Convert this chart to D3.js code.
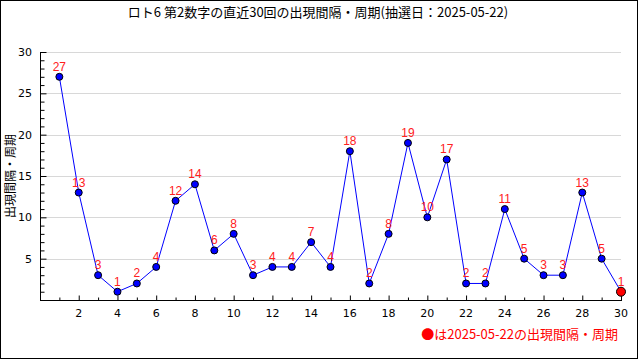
<!DOCTYPE html>
<html><head><meta charset="utf-8">
<script src="https://cdn.jsdelivr.net/npm/d3@7"></script>
<style>body{margin:0;background:#fff}svg{display:block}</style>
</head><body>
<svg id="c" width="640" height="360"></svg>
<script>
const title = "ロト6 第2数字の直近30回の出現間隔・周期(抽選日：2025-05-22)";
const yLabel = "出現間隔・周期";
const legendText = "●は2025-05-22の出現間隔・周期";
const draws = d3.range(1, 31);
const values = [27,13,3,1,2,4,12,14,6,8,3,4,4,7,4,18,2,8,19,10,17,2,2,11,5,3,3,13,5,1];
const yTicks = [5,10,15,20,25,30];
const xTicks = [2,4,6,8,10,12,14,16,18,20,22,24,26,28,30];

const svg = d3.select("#c");
const L = 40, R = 621, T = 52, B = 300;
const x = d3.scaleLinear().domain([0, 30]).range([L, R]);
const y = d3.scaleLinear().domain([0, 30]).range([B, T]);

svg.append("rect").attr("x",0.5).attr("y",0.5).attr("width",637).attr("height",358)
  .attr("fill","#fff").attr("stroke","#000");

// grid
svg.append("g").selectAll("line").data(yTicks).join("line")
  .attr("x1", L).attr("x2", R).attr("y1", d => Math.round(y(d))+0.5).attr("y2", d => Math.round(y(d))+0.5)
  .attr("stroke", "#d8d8d8");

// y axis
const yAxisMinor = d3.axisRight(y).tickValues(d3.range(1,31).filter(d=>d%5)).tickSize(4).tickFormat("");
const yAxisMajor = d3.axisRight(y).tickValues(yTicks).tickSize(6).tickFormat("");
svg.append("g").attr("transform",`translate(${L+0.5},0)`).call(yAxisMinor).call(g=>g.select(".domain").remove());
svg.append("g").attr("transform",`translate(${L+0.5},0)`).call(yAxisMajor).call(g=>g.select(".domain").remove());
svg.append("g").selectAll("text").data(yTicks).join("text")
  .attr("x", 32).attr("y", d => y(d)).attr("dy","0.35em").attr("text-anchor","end")
  .attr("font-family","DejaVu Sans").attr("font-size",11).text(d => d);

// x axis
const xAxisMinor = d3.axisTop(x).tickValues(d3.range(1,31).filter(d=>d%2)).tickSize(3).tickFormat("");
const xAxisMajor = d3.axisTop(x).tickValues(xTicks).tickSize(5).tickFormat("");
svg.append("g").attr("transform",`translate(0,${B+0.5})`).call(xAxisMinor).call(g=>g.select(".domain").remove());
svg.append("g").attr("transform",`translate(0,${B+0.5})`).call(xAxisMajor).call(g=>g.select(".domain").remove());
svg.append("g").selectAll("text").data(xTicks).join("text")
  .attr("x", d => x(d)).attr("y", 313).attr("dy","0.35em").attr("text-anchor","middle")
  .attr("font-family","DejaVu Sans").attr("font-size",11).text(d => d);

svg.append("line").attr("x1",L+0.5).attr("x2",L+0.5).attr("y1",T).attr("y2",B+1).attr("stroke","#000");
svg.append("line").attr("x1",L).attr("x2",R+1).attr("y1",B+0.5).attr("y2",B+0.5).attr("stroke","#000");

// line
const pts = draws.map((d,i)=>({d, v: values[i]}));
svg.append("path").datum(pts)
  .attr("d", d3.line().x(p=>x(p.d)).y(p=>y(p.v)))
  .attr("fill","none").attr("stroke","#0000ff").attr("stroke-width",1);

svg.append("g").selectAll("circle").data(pts).join("circle")
  .attr("cx", p=>x(p.d)).attr("cy", p=>y(p.v))
  .attr("r", (p,i)=> i===pts.length-1 ? 4.5 : 3.5)
  .attr("fill", (p,i)=> i===pts.length-1 ? "#ff0000" : "#0000ff")
  .attr("stroke","#000").attr("stroke-width",1);

svg.append("g").selectAll("text").data(pts).join("text")
  .attr("x", p=>x(p.d)).attr("y", p=>y(p.v)-6)
  .attr("text-anchor","middle").attr("fill","#ff2020")
  .attr("font-family","Liberation Sans").attr("font-size",12).text(p=>p.v);

// title
svg.append("text").attr("x",318).attr("y",17).attr("text-anchor","middle")
  .attr("font-family","Noto Sans CJK JP").attr("font-size",13).text(title);

// y label
svg.append("text").attr("transform",`translate(15,176) rotate(-90)`).attr("text-anchor","middle")
  .attr("font-family","Noto Sans CJK JP").attr("font-size",12).text(yLabel);

// legend
svg.append("text").attr("x",618).attr("y",339).attr("text-anchor","end").attr("fill","#ff0000")
  .attr("font-family","Noto Sans CJK JP").attr("font-size",13).text(legendText);
</script>
</body></html>
